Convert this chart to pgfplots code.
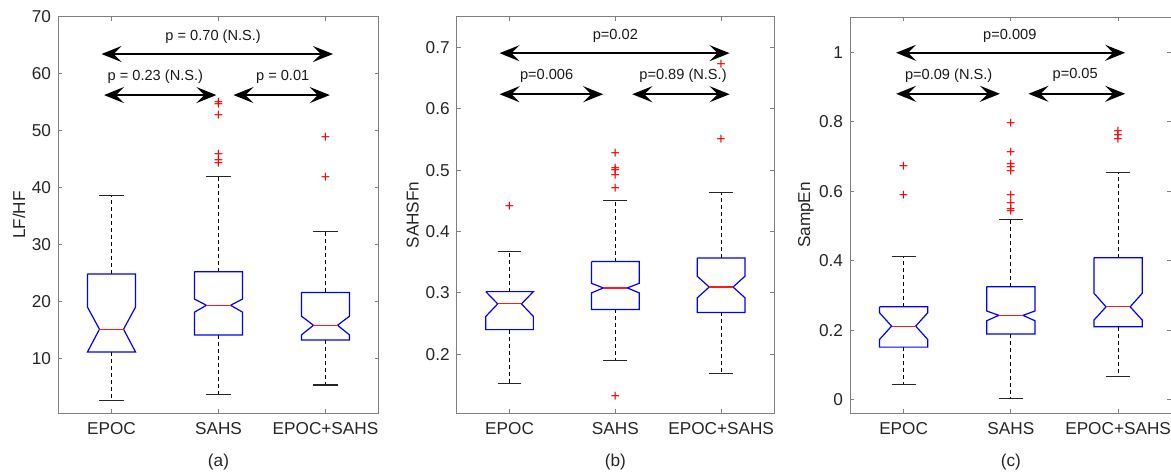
\documentclass[border=0pt]{standalone}
\usepackage{fontspec}
\setmainfont{Liberation Sans}
\usepackage{pgfplots}
\pgfplotsset{compat=1.18}
\usetikzlibrary{arrows.meta}

\newcommand{\tfont}{\fontsize{8.6}{10}\selectfont}
\newcommand{\afont}{\fontsize{7.3}{8.5}\selectfont}

% notched box: x, lower whisker, q1, notch low, median, notch high, q3, upper whisker
\newcommand{\nbox}[8]{%
  \pgfmathsetmacro\bxa{#1-0.225}\pgfmathsetmacro\bxb{#1+0.225}%
  \pgfmathsetmacro\bxc{#1-0.1125}\pgfmathsetmacro\bxd{#1+0.1125}%
  \addplot[black, mark=none, line width=0.5pt, dash pattern=on 2pt off 1.5pt] coordinates {(#1,#7) (#1,#8)};
  \addplot[black, mark=none, line width=0.5pt, dash pattern=on 2pt off 1.5pt] coordinates {(#1,#3) (#1,#2)};
  \addplot[black!85, mark=none, line width=0.6pt] coordinates {(\bxc,#8) (\bxd,#8)};
  \addplot[black!85, mark=none, line width=0.6pt] coordinates {(\bxc,#2) (\bxd,#2)};
  \addplot[blue, mark=none, line width=0.6pt] coordinates {(\bxa,#7) (\bxa,#6) (\bxc,#5) (\bxa,#4) (\bxa,#3)
    (\bxb,#3) (\bxb,#4) (\bxd,#5) (\bxb,#6) (\bxb,#7) (\bxa,#7)};
  \addplot[red!90, mark=none, line width=0.6pt] coordinates {(\bxc,#5) (\bxd,#5)};
}

\tikzset{
  dbl/.style={<->, >={Stealth[length=10pt, width=8pt, inset=4pt]}, line width=1pt, black},
}
\pgfplotsset{
  panel/.style={
    scale only axis, height=198pt,
    anchor=south west,
    xmin=0.5, xmax=3.5,
    xtick={1,2,3}, xticklabels={EPOC,SAHS,EPOC+SAHS},
    tick align=inside, major tick length=2.2pt,
    axis line style={draw=black!50, line width=0.5pt},
    every tick/.style={draw=black!50, line width=0.5pt},
    tick label style={font=\tfont, text=black!85},
    /pgf/number format/assume math mode=true,
    ylabel style={font=\tfont, text=black!85, anchor=center},
    xlabel style={font=\tfont, text=black!85, at={(axis description cs:0.5,0)}, anchor=center, yshift=-24.5pt},
    xticklabel style={yshift=-1pt},
  },
  % outliers: red plus signs
  outl/.style={only marks, mark=text, text mark={+}, text mark as node=true,
    text mark style={font=\fontsize{8}{8}\selectfont, text=red, inner sep=0pt, anchor=center}},
}

\begin{document}
\begin{tikzpicture}
\useasboundingbox (0,0) rectangle (585.5pt,236pt);

% (a)
\begin{axis}[panel, at={(29pt,29.5pt)}, width=160.5pt,
  ymin=0.5, ymax=70, ytick={10,20,30,40,50,60,70},
  ylabel={LF/HF}, ylabel style={at={(axis description cs:-0.1215,0.5)}},
  xlabel={(a)}]
  \nbox{1}{2.7}{11.2}{11.2}{15.2}{19.1}{24.9}{38.7}
  \nbox{2}{3.75}{14.2}{18.2}{19.4}{20.5}{25.3}{42.0}
  \nbox{3}{5.4}{13.3}{14.2}{15.9}{17.5}{21.65}{32.4}
  \addplot[outl] coordinates {(2,55.0) (2,54.6) (2,52.6) (2,45.8) (2,44.8) (2,44.2) (3,48.7) (3,41.8)};
  \draw[dbl] (axis cs:0.907,63.5) -- (axis cs:3.07,63.5);
  \draw[dbl] (axis cs:0.93,56.3) -- (axis cs:1.98,56.3);
  \draw[dbl] (axis cs:2.14,56.3) -- (axis cs:3.04,56.3);
  \node[font=\afont, text=black!90] at (axis cs:1.95,66.6) {p = 0.70 (N.S.)};
  \node[font=\afont, text=black!90] at (axis cs:1.41,59.5) {p = 0.23 (N.S.)};
  \node[font=\afont, text=black!90] at (axis cs:2.6,59.5) {p = 0.01};
\end{axis}

% (b)
\begin{axis}[panel, at={(228.35pt,29.5pt)}, width=158.65pt,
  ymin=0.104, ymax=0.75, ytick={0.2,0.3,0.4,0.5,0.6,0.7},
  ylabel={SAHSFn}, ylabel style={at={(axis description cs:-0.139,0.5)}},
  xlabel={(b)}]
  \nbox{1}{0.152}{0.240}{0.2615}{0.282}{0.302}{0.302}{0.367}
  \nbox{2}{0.190}{0.273}{0.300}{0.308}{0.3155}{0.351}{0.451}
  \nbox{3}{0.169}{0.268}{0.292}{0.3095}{0.327}{0.357}{0.464}
  \addplot[outl] coordinates {(1,0.440) (2,0.526) (2,0.502) (2,0.499) (2,0.490) (2,0.470) (2,0.131)
    (3,0.672) (3,0.549)};
  \draw[dbl] (axis cs:0.905,0.691) -- (axis cs:3.08,0.691);
  \draw[dbl] (axis cs:0.905,0.624) -- (axis cs:1.885,0.624);
  \draw[dbl] (axis cs:2.16,0.624) -- (axis cs:3.08,0.624);
  \node[font=\afont, text=black!90] at (axis cs:2.0,0.719) {p=0.02};
  \node[font=\afont, text=black!90] at (axis cs:1.35,0.654) {p=0.006};
  \node[font=\afont, text=black!90] at (axis cs:2.64,0.654) {p=0.89 (N.S.)};
\end{axis}

% (c)
\begin{axis}[panel, at={(425pt,29.5pt)}, width=160.85pt,
  ymin=-0.0385, ymax=1.101, ytick={0,0.2,0.4,0.6,0.8,1},
  ylabel={SampEn}, ylabel style={at={(axis description cs:-0.137,0.5)}},
  xlabel={(c)}]
  \nbox{1}{0.043}{0.151}{0.173}{0.2115}{0.25}{0.267}{0.4125}
  \nbox{2}{0.003}{0.189}{0.227}{0.2425}{0.255}{0.325}{0.519}
  \nbox{3}{0.0654}{0.2096}{0.229}{0.267}{0.306}{0.408}{0.654}
  \addplot[outl] coordinates {(1,0.669) (1,0.585) (2,0.794) (2,0.709) (2,0.676) (2,0.668) (2,0.656)
    (2,0.587) (2,0.5625) (2,0.546) (2,0.541) (3,0.771) (3,0.758) (3,0.746)};
  \draw[dbl] (axis cs:0.93,0.998) -- (axis cs:3.066,0.998);
  \draw[dbl] (axis cs:0.93,0.88) -- (axis cs:1.898,0.88);
  \draw[dbl] (axis cs:2.164,0.88) -- (axis cs:3.066,0.88);
  \node[font=\afont, text=black!90] at (axis cs:1.99,1.048) {p=0.009};
  \node[font=\afont, text=black!90] at (axis cs:1.42,0.933) {p=0.09 (N.S.)};
  \node[font=\afont, text=black!90] at (axis cs:2.6,0.933) {p=0.05};
\end{axis}
\end{tikzpicture}
\end{document}
